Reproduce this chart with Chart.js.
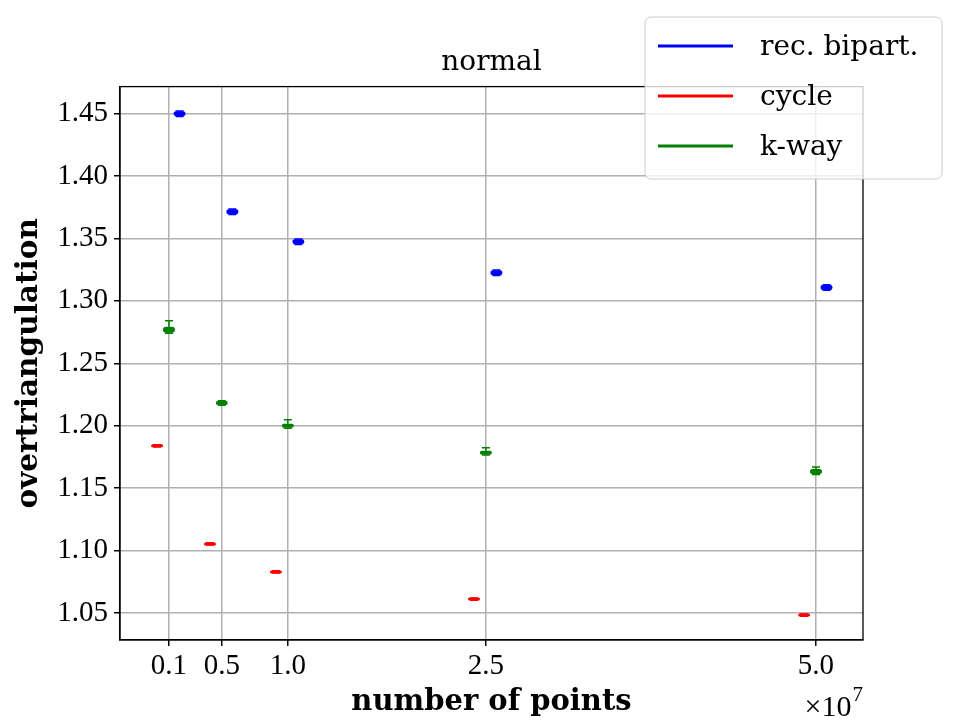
<!DOCTYPE html>
<html>
<head>
<meta charset="utf-8">
<script src="https://cdn.jsdelivr.net/npm/chart.js@4.4.0/dist/chart.umd.min.js"></script>
<style>
  html, body { margin: 0; background: #fff; }
</style>
</head>
<body>
<canvas id="chart" width="960" height="720"></canvas>
<script>
// x positions (units of 1e7 points) and tick labels
const xTicks = [0.1, 0.5, 1.0, 2.5, 5.0];
const xLabels = ['0.1', '0.5', '1.0', '2.5', '5.0'];
const yTicks = [1.05, 1.10, 1.15, 1.20, 1.25, 1.30, 1.35, 1.40, 1.45];

// rec. bipart.
const recMed = [1.4498, 1.3714, 1.3474, 1.3225, 1.3108];
const recQ1  = [1.4478, 1.3694, 1.3454, 1.3205, 1.3088];
const recQ3  = [1.4518, 1.3734, 1.3494, 1.3245, 1.3128];
const recLo  = [1.4476, 1.3692, 1.3452, 1.3203, 1.3086];
const recHi  = [1.4520, 1.3736, 1.3496, 1.3247, 1.3130];

// cycle
const cycMed = [1.1839, 1.1053, 1.0829, 1.0612, 1.0484];
const cycQ1  = [1.1831, 1.1045, 1.0821, 1.0604, 1.0476];
const cycQ3  = [1.1847, 1.1061, 1.0837, 1.0620, 1.0492];
const cycLo  = [1.1830, 1.1044, 1.0820, 1.0603, 1.0475];
const cycHi  = [1.1848, 1.1062, 1.0838, 1.0621, 1.0493];

// k-way
const kwMed = [1.2770, 1.2183, 1.2003, 1.1783, 1.1635];
const kwQ1  = [1.2745, 1.2167, 1.1983, 1.1767, 1.1614];
const kwQ3  = [1.2793, 1.2199, 1.2015, 1.1799, 1.1654];
const kwLo  = [1.2740, 1.2165, 1.1980, 1.1765, 1.1610];
const kwHi  = [1.2841, 1.2201, 1.2047, 1.1823, 1.1670];

const series = [
  { label: 'rec. bipart.', color: '#0000ff', offset: 0.08,  med: recMed, q1: recQ1, q3: recQ3, lo: recLo, hi: recHi },
  { label: 'cycle',        color: '#ff0000', offset: -0.09, med: cycMed, q1: cycQ1, q3: cycQ3, lo: cycLo, hi: cycHi },
  { label: 'k-way',        color: '#008000', offset: 0,     med: kwMed,  q1: kwQ1,  q3: kwQ3,  lo: kwLo,  hi: kwHi }
];

const tickFont = { family: 'Liberation Serif', size: 29 };
const textFont = 'DejaVu Serif';

// draws the box plots plus frame and legend
const boxPlugin = {
  id: 'boxes',
  afterDatasetsDraw(chart) {
    const ctx = chart.ctx;
    const x = chart.scales.x, y = chart.scales.y;
    const area = chart.chartArea;
    ctx.save();
    ctx.beginPath();
    ctx.rect(area.left, area.top, area.right - area.left, area.bottom - area.top);
    ctx.clip();
    series.forEach(s => {
      ctx.strokeStyle = s.color;
      ctx.fillStyle = s.color;
      s.med.forEach((m, i) => {
        const px = x.getPixelForValue(xTicks[i] + s.offset);
        const yTop = y.getPixelForValue(s.q3[i]);
        const yBot = y.getPixelForValue(s.q1[i]);
        const yHi = y.getPixelForValue(s.hi[i]);
        const yLo = y.getPixelForValue(s.lo[i]);
        ctx.lineWidth = 1.5;
        // whiskers + caps
        ctx.beginPath();
        ctx.moveTo(px, yTop); ctx.lineTo(px, yHi);
        ctx.moveTo(px, yBot); ctx.lineTo(px, yLo);
        ctx.moveTo(px - 4, yHi); ctx.lineTo(px + 4, yHi);
        ctx.moveTo(px - 4, yLo); ctx.lineTo(px + 4, yLo);
        ctx.stroke();
        // box
        let h = Math.max(yBot - yTop, 3);
        const cy = (yTop + yBot) / 2;
        const w = 12;
        ctx.beginPath();
        ctx.roundRect(px - w / 2, cy - h / 2, w, h, Math.min(h / 2, 3));
        ctx.fill();
      });
    });
    ctx.restore();
  },
  afterDraw(chart) {
    const ctx = chart.ctx;
    const area = chart.chartArea;
    ctx.save();
    // frame
    ctx.strokeStyle = '#000';
    ctx.lineWidth = 1.3;
    ctx.strokeRect(area.left, area.top, area.right - area.left, area.bottom - area.top);

    // x10^7 offset label
    ctx.fillStyle = '#000';
    ctx.textBaseline = 'alphabetic';
    ctx.textAlign = 'right';
    ctx.font = '21px "Liberation Serif"';
    ctx.fillText('7', area.right, 701);
    const w7 = ctx.measureText('7').width;
    ctx.font = '30px "Liberation Serif"';
    ctx.fillText('\u00d710', area.right - w7 - 1, 716);

    // legend
    const lx = 645, ly = 17, lw = 297, lh = 162;
    ctx.beginPath();
    ctx.roundRect(lx, ly, lw, lh, 6);
    ctx.fillStyle = 'rgba(255,255,255,0.8)';
    ctx.fill();
    ctx.strokeStyle = '#cccccc';
    ctx.lineWidth = 1;
    ctx.stroke();
    ctx.font = '28px "' + textFont + '"';
    ctx.textAlign = 'left';
    ctx.textBaseline = 'middle';
    series.forEach((s, i) => {
      const yy = 46 + i * 50;
      ctx.strokeStyle = s.color;
      ctx.lineWidth = 3;
      ctx.beginPath();
      ctx.moveTo(658, yy); ctx.lineTo(733, yy);
      ctx.stroke();
      ctx.fillStyle = '#000';
      ctx.fillText(s.label, 760, yy + 2);
    });
    ctx.restore();
  }
};

new Chart(document.getElementById('chart'), {
  type: 'scatter',
  data: {
    datasets: series.map(s => ({
      label: s.label,
      data: s.med.map((m, i) => ({ x: xTicks[i] + s.offset, y: m })),
      borderColor: s.color,
      backgroundColor: s.color,
      pointRadius: 0,
      pointHoverRadius: 0
    }))
  },
  options: {
    responsive: false,
    animation: false,
    devicePixelRatio: 1,
    layout: { padding: { left: 0, right: 97, top: 0, bottom: 0 } },
    plugins: {
      legend: { display: false },
      tooltip: { enabled: false },
      title: {
        display: true,
        text: 'normal',
        fullSize: false,
        color: '#000',
        font: { family: textFont, size: 28, weight: 'normal' },
        padding: { top: 46, bottom: 7 }
      }
    },
    scales: {
      x: {
        type: 'linear',
        min: -0.271,
        max: 5.356,
        afterBuildTicks: s => { s.ticks = xTicks.map(v => ({ value: v })); },
        afterFit: s => { s.height = 80; },
        ticks: {
          autoSkip: false,
          maxRotation: 0,
          color: '#000',
          font: tickFont,
          padding: 3,
          callback: (v) => xLabels[xTicks.indexOf(v)] ?? v.toFixed(1)
        },
        grid: { color: '#b0b0b0', lineWidth: 1.5, tickColor: '#000', tickLength: 6 },
        border: { color: '#000', width: 1.3 },
        title: {
          display: true,
          text: 'number of points',
          color: '#000',
          font: { family: textFont, size: 29, weight: 'bold' },
          padding: { top: 0, bottom: 0 }
        }
      },
      y: {
        min: 1.0284,
        max: 1.4716,
        afterBuildTicks: s => { s.ticks = yTicks.map(v => ({ value: v })); },
        afterFit: s => { s.width = 120; },
        ticks: {
          color: '#000',
          font: tickFont,
          padding: 6,
          callback: v => v.toFixed(2)
        },
        grid: { color: '#b0b0b0', lineWidth: 1.5, tickColor: '#000', tickLength: 6 },
        border: { color: '#000', width: 1.3 },
        title: {
          display: true,
          text: 'overtriangulation',
          color: '#000',
          font: { family: textFont, size: 29.5, weight: 'bold' },
          padding: { top: 12, bottom: 0 }
        }
      }
    }
  },
  plugins: [boxPlugin]
});
</script>
</body>
</html>
